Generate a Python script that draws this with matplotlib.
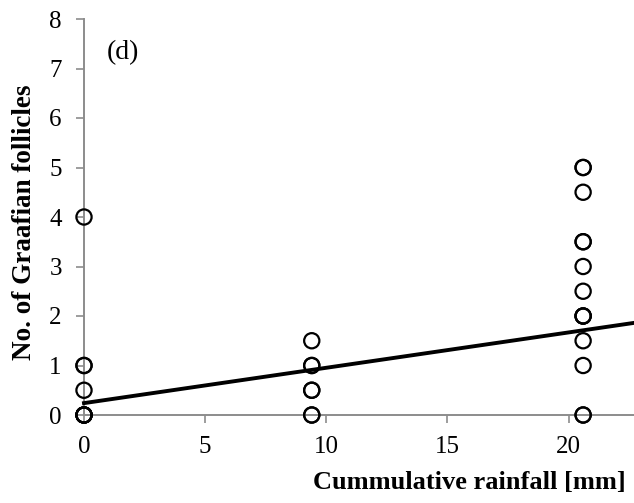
import matplotlib
matplotlib.use("Agg")
import matplotlib.pyplot as plt
import numpy as np

plt.rcParams["font.family"] = ["Liberation Serif", "DejaVu Serif"]

# rainfall (mm) and follicle counts, duplicates kept
rain_0 = [0] * 9
foll_0 = [0, 0, 0, 0, 0, 0.5, 1, 1, 4]
rain_9 = [9.4] * 7
foll_9 = [0, 0, 0.5, 0.5, 1, 1, 1.5]
rain_20 = [20.6] * 14
foll_20 = [0, 0, 1, 1.5, 2, 2, 2, 2.5, 3, 3.5, 3.5, 4.5, 5, 5]

trend_intercept = 0.24
trend_slope = 0.0714

x_ticks = [0, 5, 10, 15, 20]
y_ticks = [0, 1, 2, 3, 4, 5, 6, 7, 8]
x_max = 22.7

fig = plt.figure(figsize=(6.34, 5.03), dpi=100)
ax = fig.add_axes([84 / 634, 1 - 415 / 503, (634 - 84) / 634, (415 - 19) / 503])

xs = rain_0 + rain_9 + rain_20
ys = foll_0 + foll_9 + foll_20
ax.scatter(xs, ys, s=120, facecolors="none", edgecolors="black", linewidths=1.6,
           zorder=3, clip_on=False)

tx = np.array([0, x_max])
ax.plot(tx, trend_intercept + trend_slope * tx, color="black", lw=2.8, zorder=4,
        clip_on=False)

ax.set_xlim(0, x_max)
ax.set_ylim(0, 8)
ax.set_xticks(x_ticks)
ax.set_yticks(y_ticks)
for s in ("top", "right"):
    ax.spines[s].set_visible(False)
for s in ("left", "bottom"):
    ax.spines[s].set_color("#8c8c8c")
    ax.spines[s].set_linewidth(1.4)
ax.tick_params(axis="both", direction="out", length=6, width=1.2, color="#8c8c8c",
               labelsize=18)
ax.tick_params(axis="y", pad=10)
ax.tick_params(axis="x", pad=9)

ax.text(107 / 634, 1 - 53 / 503, "(d)", transform=fig.transFigure, fontsize=20,
        va="center", ha="left")

fig.text(626 / 634, 1 - 483 / 503, "Cummulative rainfall [mm]", ha="right",
         va="center", fontsize=19, fontweight="bold")
fig.text(25 / 634, 1 - 222 / 503, "No. of Graafian follicles", ha="center",
         va="center", rotation=90, fontsize=19.5, fontweight="bold")

fig.savefig("out.png", dpi=100)
